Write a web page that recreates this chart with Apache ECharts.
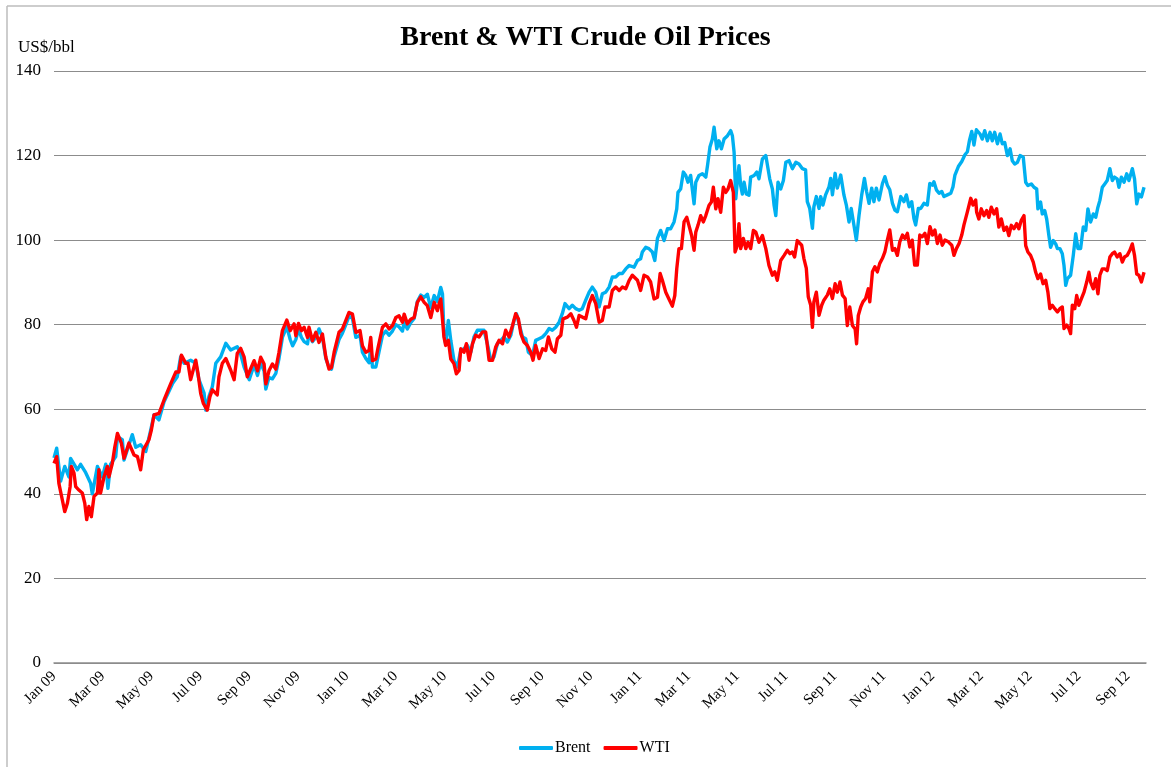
<!DOCTYPE html>
<html>
<head>
<meta charset="utf-8">
<script src="https://cdn.jsdelivr.net/npm/echarts@6/dist/echarts.min.js"></script>
<style>
html,body{margin:0;padding:0;background:#fff;}
#chart{width:1171px;height:767px;}
</style>
</head>
<body>
<div id="chart"></div>
<script>
// x = months since 1 Jan 2009
const tickLabels = ['Jan 09','Mar 09','May 09','Jul 09','Sep 09','Nov 09','Jan 10','Mar 10','May 10','Jul 10','Sep 10','Nov 10','Jan 11','Mar 11','May 11','Jul 11','Sep 11','Nov 11','Jan 12','Mar 12','May 12','Jul 12','Sep 12'];
const yTicks = [0, 20, 40, 60, 80, 100, 120, 140];

const brentPoints = [
[0,48.5],[0.11,50.8],[0.27,43],[0.44,46.5],[0.61,44],[0.68,48.4],[0.96,45.7],[1.09,47],[1.3,45],[1.5,42.5],[1.57,40],[1.78,46.5],[1.98,44],[2.12,47],[2.21,41.3],[2.32,47],[2.53,48.8],[2.6,53.5],[2.8,52.8],[2.87,48],[3.14,52.8],[3.21,54],[3.35,51],[3.55,51.6],[3.76,50],[3.96,55],[4.1,58.7],[4.3,57.5],[4.51,61.8],[4.85,66],[5.05,67.7],[5.19,72.4],[5.33,70.9],[5.6,71.6],[5.81,70.9],[5.94,67],[6.15,63.8],[6.22,59.8],[6.35,63],[6.49,65.4],[6.63,70.9],[6.83,72.4],[7.04,75.6],[7.24,74],[7.51,74.8],[7.65,73],[7.79,70],[8,67],
[8.2,70.5],[8.34,68],[8.47,71],[8.61,69],[8.68,64.8],[8.81,67.5],[8.95,67.2],[9.09,68.5],[9.22,72],[9.36,77],[9.54,79.5],[9.68,76.5],[9.78,75],[9.91,76.5],[10.02,79],[10.14,77],[10.25,76],[10.39,75.5],[10.45,78],[10.59,76],[10.73,77],[10.86,79],[11,77],[11.14,72],[11.27,70],[11.37,69.5],[11.48,72.5],[11.68,76.5],[11.82,78],[11.96,80],[12.09,82],[12.23,81.5],[12.37,77],[12.54,77.5],[12.64,73.5],[12.78,72],[12.91,71],[12.98,75],[13.05,70],[13.19,70],[13.28,72.5],[13.46,77.5],[13.6,78.5],[13.73,77.5],[13.87,78.5],[14.01,80],[14.14,79.5],[14.28,78.5],[14.35,80.5],[14.48,79],[14.62,80.5],[14.76,81.5],[14.89,85.5],[15.03,87],[15.17,86.5],[15.3,87.2],[15.44,84],[15.58,86.9],[15.71,85.5],[15.85,88.8],[15.92,87.3],
[15.98,77.9],[16.05,75.5],[16.16,81],[16.26,76.3],[16.39,71.6],[16.53,70],[16.67,74],[16.8,74.3],[16.94,75.1],[17.08,73.5],[17.21,77.1],[17.35,78.7],[17.49,78.7],[17.62,78.7],[17.76,75.5],[17.9,71.6],[18.03,72.4],[18.17,75.5],[18.31,76.3],[18.44,77.1],[18.58,75.9],[18.72,77.5],[18.85,81],[18.95,82.6],[19.06,80.2],[19.2,77.1],[19.33,76.7],[19.44,73.5],[19.61,72.7],[19.74,76.3],[19.88,76.7],[20.02,77.1],[20.15,77.9],[20.29,79.1],[20.42,78.7],[20.56,79.4],[20.7,80.6],[20.83,82.6],[20.94,85],[21.11,83.8],[21.24,84.6],[21.38,83.8],[21.52,83.4],[21.65,83.8],[21.79,85.8],[21.93,87.7],[22.06,88.9],[22.2,87.7],[22.34,84.2],[22.47,87.3],[22.61,87.7],[22.75,88.9],[22.88,91.3],[23.02,91.3],[23.16,92.1],[23.29,92.1],[23.43,93.2],[23.57,94],
[23.77,93.6],[23.91,95.2],[24.04,95.6],[24.11,97.2],[24.25,98.3],[24.38,98],[24.52,97.2],[24.62,95.2],[24.73,100.4],[24.86,102.3],[25,99.9],[25.14,102.7],[25.27,102.7],[25.41,104.3],[25.52,107.4],[25.57,111.3],[25.68,112.1],[25.79,116.1],[25.89,115.3],[25.98,113.7],[26.09,115.3],[26.23,108.6],[26.3,113.7],[26.43,115.3],[26.57,115.7],[26.71,114.9],[26.78,117.6],[26.88,122],[26.98,123.9],[27.05,126.7],[27.16,121.6],[27.25,123.5],[27.35,121.6],[27.46,123.9],[27.6,124.7],[27.73,125.9],[27.8,124.7],[27.87,120.8],[27.94,109.8],[28,113.7],[28.07,117.6],[28.14,112.9],[28.21,110.9],[28.28,113.7],[28.37,110.9],[28.48,110.6],[28.55,114.9],[28.69,115.3],[28.8,116.1],[28.89,114.5],[28.96,116.9],[29.03,119.2],[29.17,120],[29.23,120],[29.33,114.5],[29.44,112.1],[29.51,108.2],[29.58,105.8],[29.67,113.7],[29.78,112.1],[29.89,114.1],[29.99,118.4],[30.12,118.8],[30.26,116.9],[30.4,118.4],[30.53,118],[30.67,116.9],
[30.8,116.6],[30.87,109.1],[30.97,107.5],[31.08,102.8],[31.14,107.9],[31.24,110.3],[31.35,107.5],[31.42,110.3],[31.51,108.3],[31.62,110.7],[31.76,112.6],[31.83,114.6],[31.9,110.7],[32.01,115.8],[32.1,112.3],[32.24,115.4],[32.37,110.7],[32.47,108.3],[32.58,104.3],[32.67,107.5],[32.78,103.6],[32.88,100],[32.99,105.9],[33.1,110.7],[33.21,114.6],[33.3,111.5],[33.4,108.7],[33.51,112.3],[33.6,109.1],[33.7,112.3],[33.81,109.5],[33.95,113.4],[34.05,115],[34.15,113],[34.25,111.9],[34.36,108.7],[34.46,107.1],[34.56,106.7],[34.7,110.3],[34.83,109.1],[34.93,110.7],[35.04,107.9],[35.15,109.1],[35.24,105.1],[35.31,103.6],[35.42,107.5],[35.52,107.5],[35.65,108.7],[35.79,108.3],[35.89,113.4],[36,113],[36.06,113.8],[36.16,111.9],[36.27,111.1],[36.38,111.5],[36.47,110.3],[36.61,110.7],[36.75,111.1],[36.84,112.6],[36.92,115.4],[37.06,117.4],[37.2,118.6],[37.33,120.2],[37.43,120.9],[37.52,123.7],[37.61,125.7],[37.7,122.5],[37.8,126.1],
[37.95,125.1],[38.04,123.9],[38.14,125.9],[38.25,123.5],[38.36,125.5],[38.45,123.5],[38.55,125.5],[38.66,122.8],[38.77,125.1],[38.86,122.8],[38.96,123.1],[39.07,120],[39.18,121.6],[39.27,118.8],[39.37,118],[39.48,118.4],[39.59,120],[39.72,119.6],[39.82,113.7],[39.91,112.9],[40.05,113.3],[40.16,112.5],[40.27,112.1],[40.32,107.4],[40.43,109],[40.5,106.2],[40.6,107],[40.68,105],[40.77,101.1],[40.84,98.3],[40.95,99.9],[41.05,99.1],[41.12,98],[41.22,98],[41.32,96.8],[41.39,94],[41.46,89.3],[41.53,90.9],[41.66,91.7],[41.77,96.4],[41.87,101.5],[41.96,98],[42.07,98],[42.18,103.1],[42.28,102.3],[42.37,107.4],[42.48,104.3],[42.59,106.2],[42.69,105.4],[42.78,107.8],[42.86,109.4],[42.96,112.5],[43.06,113.3],[43.16,114.1],[43.27,116.9],[43.37,114.1],[43.46,114.9],[43.57,114.5],[43.64,112.5],[43.74,114.9],[43.85,113.7],[43.96,115.7],[44.05,114.1],[44.19,116.9],[44.28,114.5],[44.37,108.6],[44.46,110.9],[44.56,110.2],[44.67,112.5]
];

const wtiPoints = [
[0,47.2],[0.11,48.8],[0.2,42.5],[0.34,38.6],[0.44,35.8],[0.55,37.8],[0.66,41.7],[0.71,46.5],[0.82,44.9],[0.89,41.7],[1.02,40.9],[1.16,40.2],[1.26,37.8],[1.34,33.9],[1.43,37],[1.53,34.6],[1.64,39.4],[1.78,40.2],[1.84,45.7],[1.91,40.2],[2.05,44],[2.19,46.5],[2.25,44],[2.39,47.2],[2.49,51],[2.6,54.3],[2.76,52],[2.87,48.4],[3.07,52],[3.28,49.2],[3.42,48.8],[3.55,45.7],[3.66,50.4],[3.89,52.8],[3.99,55.1],[4.1,58.7],[4.3,59],[4.51,62.2],[4.78,66],[4.99,68.8],[5.12,68.8],[5.22,72.8],[5.4,70.9],[5.49,70.9],[5.6,67],[5.81,71.6],[5.9,68.5],[6.01,63.8],[6.12,61.4],[6.28,59.8],[6.39,63],[6.49,64.6],[6.69,63.4],[6.76,67.7],[6.9,70.9],[7.04,72],[7.24,69.3],[7.38,67],[7.51,73.2],[7.65,74.4],[7.79,72.4],[7.92,67.7],
[8.2,71.5],[8.34,69.1],[8.47,72.3],[8.61,70.7],[8.68,66],[8.81,69.1],[8.95,70.7],[9.09,69.5],[9.22,73.5],[9.36,78.6],[9.54,81.1],[9.68,78.6],[9.84,80.2],[9.91,77.4],[10.02,80.3],[10.14,78.6],[10.25,79.4],[10.39,77],[10.45,79.4],[10.59,76.2],[10.73,78.2],[10.86,75.8],[11,77.8],[11.14,72.3],[11.27,69.5],[11.37,69.9],[11.48,73.5],[11.68,78.2],[11.82,79],[11.96,81],[12.09,82.9],[12.23,82.5],[12.37,78.2],[12.54,78.6],[12.64,75],[12.78,73.5],[12.91,73.9],[12.98,77],[13.05,71.5],[13.19,71.9],[13.28,74.6],[13.46,79.4],[13.6,80.2],[13.73,79],[13.87,79.8],[14.01,81.7],[14.14,82.1],[14.28,80.6],[14.35,82.5],[14.48,80.2],[14.62,81.3],[14.76,81.7],[14.89,85.3],[15.03,86.6],[15.17,85.3],[15.3,84.5],[15.44,81.7],[15.58,85.3],[15.71,83.3],[15.78,84.9],[15.85,86.1],[15.92,85.8],
[15.98,77.1],[16.05,75.1],[16.16,76.3],[16.26,71.9],[16.39,70.8],[16.49,68.4],[16.6,69.2],[16.67,74.3],[16.8,73.5],[16.9,75.5],[17.01,71.6],[17.15,75.5],[17.28,77.5],[17.42,77.1],[17.56,78.3],[17.69,78.3],[17.83,71.6],[17.97,71.6],[18.1,74.7],[18.24,76.3],[18.38,75.5],[18.51,78.7],[18.65,77.1],[18.79,79.8],[18.92,82.6],[19.03,81.4],[19.13,77.9],[19.26,75.9],[19.4,75.1],[19.54,73.5],[19.63,71.6],[19.74,75.1],[19.88,72],[20.02,74.3],[20.15,73.9],[20.26,77.1],[20.4,74.3],[20.53,73.5],[20.63,76.7],[20.77,77.5],[20.86,81.4],[21.04,81.8],[21.18,82.6],[21.31,81],[21.41,79.4],[21.52,82.2],[21.65,81.8],[21.79,81.4],[21.93,85],[22.06,86.9],[22.2,85],[22.34,80.6],[22.47,81],[22.58,84.2],[22.75,84.2],[22.88,88.1],[23.02,88.9],[23.16,88.1],[23.29,88.9],[23.43,88.5],[23.57,90.5],[23.7,91.7],
[23.91,90.5],[24.04,88.1],[24.18,91.7],[24.32,91.3],[24.45,90.1],[24.59,86.1],[24.73,86.5],[24.84,92.1],[24.93,90.5],[25.07,87.7],[25.2,86.1],[25.34,84.4],[25.44,86.9],[25.52,93.2],[25.61,98],[25.71,98],[25.82,104.3],[25.93,105.4],[26.02,103.5],[26.13,101.1],[26.23,97.6],[26.3,101.9],[26.39,103.5],[26.5,105.8],[26.61,104.3],[26.71,105.8],[26.84,108.2],[26.94,109],[27.02,112.5],[27.12,107.4],[27.21,109.8],[27.32,106.6],[27.43,112.5],[27.53,111.3],[27.62,112.1],[27.73,114.1],[27.84,111.3],[27.91,97.2],[28,98.7],[28.07,103.9],[28.14,98],[28.25,100.4],[28.35,98],[28.44,99.5],[28.55,98],[28.66,102.3],[28.76,101.9],[28.89,99.5],[29.03,101.1],[29.17,98],[29.3,94],[29.44,91.7],[29.54,92.5],[29.64,90.5],[29.78,95.2],[29.92,96.4],[30.05,97.6],[30.16,96.8],[30.26,97.2],[30.35,96],[30.46,99.9],
[30.53,100],[30.64,98.8],[30.73,95.7],[30.83,93.3],[30.91,86.6],[31.01,84.6],[31.08,79.4],[31.14,85.4],[31.24,87.7],[31.35,82.2],[31.46,84.6],[31.55,85.8],[31.69,87],[31.79,88.5],[31.9,86.2],[32.01,89.7],[32.1,87.7],[32.21,90.1],[32.31,87],[32.42,86.2],[32.51,79.8],[32.61,84.2],[32.72,79.8],[32.83,79],[32.89,75.5],[32.96,82.2],[33.06,84.2],[33.15,85.4],[33.26,86.2],[33.37,88.5],[33.43,85.4],[33.54,92.5],[33.64,93.7],[33.74,92.5],[33.84,94.5],[33.95,95.7],[34.05,97.2],[34.15,100],[34.25,102.4],[34.36,97.6],[34.46,98],[34.56,96.4],[34.66,99.6],[34.77,101.2],[34.87,100.4],[34.97,101.6],[35.07,98.4],[35.17,100],[35.27,94.1],[35.38,94.1],[35.48,101.2],[35.58,100.8],[35.69,101.6],[35.79,99.2],[35.9,103.2],[36,101.2],[36.1,102.4],[36.2,99.2],[36.31,101.2],[36.4,98.8],[36.51,100],[36.65,99.6],[36.79,98.8],[36.88,96.4],[36.98,98],[37.09,99.2],[37.2,101.2],[37.29,103.6],[37.43,106.7],[37.57,109.9],[37.66,108.3],[37.77,109.5],
[37.81,106.6],[37.9,105],[38,107.4],[38.11,105.8],[38.22,107],[38.31,105.4],[38.41,107.8],[38.52,106.2],[38.63,107.4],[38.72,103.1],[38.82,105],[38.93,102.3],[39.04,103.1],[39.13,101.1],[39.23,103.5],[39.34,102.7],[39.45,103.9],[39.54,102.7],[39.64,104.7],[39.75,105.8],[39.82,98.7],[39.91,97.2],[40.02,96.4],[40.13,94.8],[40.23,92.4],[40.32,90.9],[40.43,92],[40.53,89.7],[40.64,90.5],[40.73,87.7],[40.81,83.8],[40.91,84.6],[41.01,83.8],[41.12,83],[41.22,83.8],[41.32,84.2],[41.39,79.1],[41.5,79.9],[41.59,79.1],[41.66,77.9],[41.73,84.6],[41.83,83.8],[41.91,86.9],[42,84.6],[42.1,86.1],[42.21,87.7],[42.32,90.1],[42.41,92.4],[42.48,90.1],[42.59,88.5],[42.69,90.9],[42.78,87.3],[42.86,91.7],[42.96,93.2],[43.06,93.2],[43.16,92.8],[43.27,96],[43.37,96.8],[43.46,97.2],[43.57,96],[43.68,96.8],[43.78,94.8],[43.87,96],[43.98,96.4],[44.09,97.6],[44.19,99.1],[44.28,96.4],[44.37,92],[44.46,91.7],[44.56,90.1],[44.67,92.4]
];

const FONT = '"Liberation Serif", "Times New Roman", serif';
const chart = echarts.init(document.getElementById('chart'), null, {renderer: 'canvas'});

chart.setOption({
  animation: false,
  backgroundColor: '#ffffff',
  title: {
    text: 'Brent & WTI Crude Oil Prices',
    left: 'center',
    top: 19,
    textStyle: {fontFamily: FONT, fontSize: 28, fontWeight: 'bold', color: '#000'}
  },
  graphic: [
    {type: 'line', shape: {x1: 7, y1: 6, x2: 7, y2: 767}, style: {stroke: '#bdbdbd', lineWidth: 1.5}, silent: true},
    {type: 'line', shape: {x1: 7, y1: 6, x2: 1171, y2: 6}, style: {stroke: '#bdbdbd', lineWidth: 1.5}, silent: true},
    {type: 'text', left: 18, top: 39, style: {text: 'US$/bbl', font: '17px ' + FONT, fill: '#000'}, silent: true}
  ],
  legend: {
    left: 514,
    top: 735,
    itemWidth: 34,
    itemHeight: 4,
    itemGap: 13,
    icon: 'roundRect',
    textStyle: {fontFamily: FONT, fontSize: 16, color: '#000', padding: [0, 0, 0, -3]},
    data: ['Brent', 'WTI']
  },
  grid: {left: 54, right: 25, top: 71, bottom: 104, containLabel: false},
  xAxis: {
    type: 'value',
    min: 0,
    max: 44.75,
    interval: 2,
    splitLine: {show: false},
    axisTick: {show: false},
    axisLine: {show: true, lineStyle: {color: '#8c8c8c', width: 1.5}},
    axisLabel: {
      rotate: 45,
      margin: 11,
      fontFamily: FONT,
      fontSize: 15,
      color: '#000',
      showMaxLabel: false,
      formatter: function (v) {
        const r = Math.round(v);
        if (Math.abs(v - r) > 1e-6 || r % 2 !== 0) return '';
        return tickLabels[r / 2] || '';
      }
    }
  },
  yAxis: {
    type: 'value',
    min: yTicks[0],
    max: yTicks[yTicks.length - 1],
    interval: 20,
    axisLine: {show: false},
    axisTick: {show: false},
    splitLine: {show: true, lineStyle: {color: '#8c8c8c', width: 1.2}},
    axisLabel: {margin: 13, fontFamily: FONT, fontSize: 17, color: '#000'}
  },
  series: [
    {
      name: 'Brent',
      type: 'line',
      data: brentPoints,
      symbol: 'none',
      showSymbol: false,
      lineStyle: {color: '#00B0F0', width: 3.4, join: 'round'},
      itemStyle: {color: '#00B0F0'},
      z: 2
    },
    {
      name: 'WTI',
      type: 'line',
      data: wtiPoints,
      symbol: 'none',
      showSymbol: false,
      lineStyle: {color: '#FF0000', width: 3.4, join: 'round'},
      itemStyle: {color: '#FF0000'},
      z: 3
    }
  ]
});
</script>
</body>
</html>
